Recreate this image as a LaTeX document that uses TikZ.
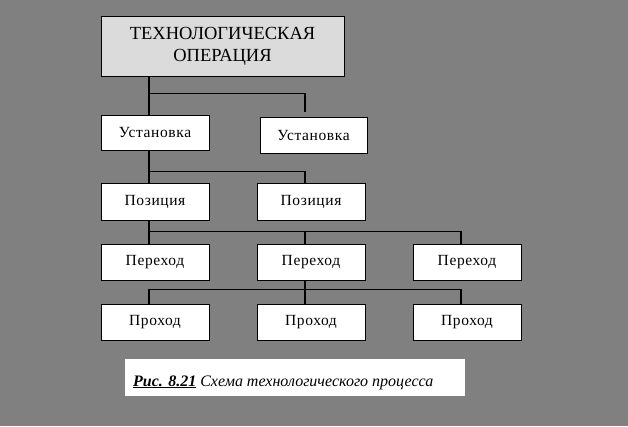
\documentclass[tikz,border=0pt]{standalone}
\usepackage{fontspec}
\setmainfont{Liberation Serif}
\newfontfamily\boxfont[LetterSpace=4]{Liberation Serif}
\begin{document}
\begin{tikzpicture}[x=1pt,y=-1pt,
  box/.style={draw=black,line width=1pt,fill=white,minimum width=108pt,minimum height=36pt,inner sep=0pt,font=\boxfont\fontsize{15.5}{17}\selectfont},
  conn/.style={line width=1.2pt,draw=black}]
\fill[black!50] (0,0) rectangle (628,426);
\useasboundingbox (0,0) rectangle (628,426);
\node[box,fill=black!14,minimum width=243pt,minimum height=60pt,font=\fontsize{18.5}{22}\selectfont] (op) at (222.5,46) {\raisebox{-2.5pt}{\setlength{\tabcolsep}{0pt}\begin{tabular}{c}ТЕХНОЛОГИЧЕСКАЯ\\ОПЕРАЦИЯ\end{tabular}}};
\node[box,minimum height=35pt] (u1) at (155,132.5) {Установка};
\node[box,minimum width=107pt] (u2) at (313.5,135) {Установка};
\node[box,minimum height=37pt] (p1) at (155,201.5) {Позиция};
\node[box,minimum height=37pt] (p2) at (311,201.5) {Позиция};
\node[box] (t1) at (155,262) {Переход};
\node[box] (t2) at (311,262) {Переход};
\node[box] (t3) at (467,262) {Переход};
\node[box] (h1) at (155,322) {Проход};
\node[box] (h2) at (311,322) {Проход};
\node[box] (h3) at (467,322) {Проход};
\coordinate (c1) at (149,0);
\coordinate (c2) at (305,0);
\coordinate (c3) at (461,0);
\coordinate (e2) at (305,112);
% level 1
\draw[conn] (op.south -| c1) -- (u1.north -| c1);
\draw[conn] (op.south -| c1) ++(0,17) -| (e2);
% level 2
\draw[conn] (u1.south -| c1) -- (p1.north -| c1);
\draw[conn] (u1.south -| c1) ++(0,21) -| (p2.north -| c2);
% level 3
\draw[conn] (p1.south -| c1) -- (t1.north -| c1);
\draw[conn] (p1.south -| c1) ++(0,11) -| (t3.north -| c3);
\draw[conn] (p1.south -| c1) ++(0,11) -| (t2.north -| c2);
% level 4
\draw[conn] (t2.south -| c2) -- (h2.north -| c2);
\draw[conn] (h1.north -| c1) -- ++(0,-14) -| (h3.north -| c3);
% caption
\node[fill=white,minimum width=340pt,minimum height=37pt,inner sep=0pt] (capbox) at (295,377.5) {};
\node[anchor=base west,inner sep=0pt,font=\fontsize{16}{18}\selectfont\itshape] (cap) at (133,386) {\underline{\textbf{Рис. 8.21}} Схема технологического процесса};
\end{tikzpicture}
\end{document}
